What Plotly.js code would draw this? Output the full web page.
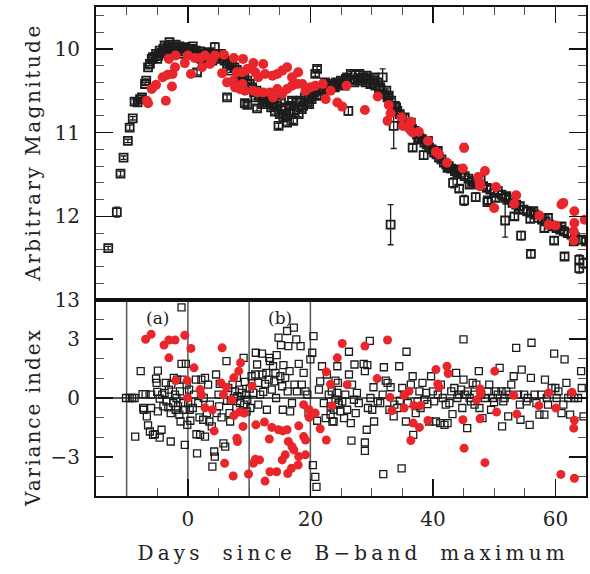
<!DOCTYPE html>
<html>
<head>
<meta charset="utf-8">
<script src="https://cdn.plot.ly/plotly-3.0.1.min.js"></script>
<style>
body{margin:0;background:#fff;}
.annotation[data-index="2"] .annotation-text{letter-spacing:2.5px;}
.annotation[data-index="3"] .annotation-text{letter-spacing:2px;}
.annotation[data-index="4"] .annotation-text{letter-spacing:4.2px;word-spacing:8px;}
</style>
</head>
<body>
<div id="chart" style="width:590px;height:574px;"></div>
<script>
// Top panel: black open squares [day, magnitude, error]
const blackTop = [
[-13.0,12.38,.02],[-11.6,11.95,.06],[-11.0,11.49,.03],[-10.5,11.30,.02],[-9.8,11.10,.02],[-9.5,10.94,.03],[-9.0,10.83,.02],[-8.7,10.63,.03],[-8.2,10.64,.02],[-7.8,10.60,.02],[-7.5,10.58,.02],[-7.0,10.42,.02],[-6.8,10.38,.02],[-6.5,10.22,.02],[-6.2,10.18,.02],[-5.9,10.12,.02],[-5.7,10.10,.02],[-5.2,10.06,.02],[-5.0,10.12,.02],[-4.8,10.08,.02],[-4.6,10.02,.02],[-4.3,10.05,.02],[-4.0,10.00,.02],[-3.8,9.96,.02],[-3.6,10.03,.02],[-3.3,9.98,.02],[-3.0,9.92,.02],[-2.7,10.00,.02],[-2.4,9.97,.02],[-2.2,10.04,.02],[-2.0,9.95,.02],[-1.7,10.02,.02],[-1.4,9.97,.02],[-1.2,10.06,.02],[-1.0,9.99,.02],[-0.7,10.03,.02],[-0.4,9.98,.02],[0.0,10.00,.02],[0.3,10.04,.02],[0.6,10.01,.02],[0.8,9.97,.02],[1.0,10.05,.02],[1.3,10.02,.02],[1.5,10.28,.03],[1.7,10.06,.02],[2.0,10.03,.02],[2.2,10.12,.02],[2.4,10.07,.02],[2.8,10.05,.02],[3.0,10.10,.02],[3.2,10.08,.02],[3.5,10.04,.02],[3.9,10.09,.02],[4.0,10.14,.02],[4.3,10.06,.02],[4.4,9.98,.05],[4.6,10.11,.02],[5.0,10.08,.02],[5.3,10.12,.02],[5.4,10.06,.02],[5.6,10.09,.03],[6.0,10.14,.02],[6.4,10.18,.02],[6.4,10.58,.03],[6.8,10.16,.02],[7.0,10.26,.02],[7.2,10.20,.02],[7.6,10.22,.02],[8.0,10.25,.02],[8.2,10.34,.02],[8.4,10.30,.02],[8.8,10.28,.02],[9.0,10.40,.02],[9.2,10.33,.02],[9.3,10.65,.03],[9.7,10.38,.02],[9.7,10.67,.03],[10.1,10.42,.02],[10.3,10.48,.02],[10.5,10.46,.02],[10.8,10.52,.02],[11.0,10.58,.02],[11.2,10.50,.02],[11.3,10.71,.03],[11.6,10.56,.02],[12.0,10.54,.03],[12.2,10.66,.03],[12.3,10.60,.03],[12.6,10.58,.03],[13.0,10.64,.03],[13.3,10.62,.03],[13.4,10.56,.03],[13.6,10.70,.03],[13.9,10.66,.03],[14.0,10.60,.03],[14.2,10.75,.03],[14.5,10.68,.03],[14.8,10.92,.03],[15.0,10.78,.03],[15.2,10.64,.03],[15.3,10.72,.03],[15.6,10.82,.03],[15.9,10.70,.03],[16.0,10.80,.03],[16.2,10.88,.03],[16.5,10.76,.03],[16.8,10.68,.03],[17.0,10.62,.03],[17.2,10.86,.03],[17.4,10.74,.03],[17.8,10.64,.03],[18.1,10.78,.03],[18.4,10.62,.03],[18.6,10.72,.03],[18.8,10.68,.03],[19.1,10.58,.03],[19.5,10.64,.03],[19.8,10.66,.03],[19.9,10.56,.03],[20.2,10.60,.03],[20.6,10.52,.03],[20.8,10.30,.03],[21.0,10.56,.03],[21.1,10.24,.03],[21.4,10.50,.03],[21.8,10.46,.03],[22.2,10.50,.03],[22.4,10.40,.03],[22.6,10.44,.03],[23.0,10.47,.03],[23.4,10.42,.03],[23.8,10.45,.03],[24.0,10.46,.03],[24.2,10.40,.03],[24.6,10.43,.03],[25.0,10.38,.03],[25.4,10.41,.03],[25.6,10.44,.03],[25.8,10.36,.03],[26.0,10.34,.03],[26.2,10.74,.05],[26.6,10.30,.03],[27.0,10.37,.03],[27.2,10.40,.03],[27.4,10.30,.03],[27.8,10.35,.03],[28.0,10.30,.03],[28.2,10.38,.03],[28.6,10.34,.03],[29.0,10.40,.03],[29.2,10.32,.03],[29.4,10.36,.03],[29.8,10.42,.03],[30.2,10.38,.03],[30.4,10.34,.03],[30.6,10.44,.03],[31.0,10.40,.03],[31.2,10.48,.03],[31.4,10.46,.03],[31.8,10.34,.10],[32.0,10.54,.03],[32.4,10.50,.03],[32.6,10.58,.03],[32.8,10.56,.03],[33.1,12.10,.24],[33.2,10.62,.03],[33.6,10.92,.27],[33.8,10.68,.03],[34.0,10.70,.03],[34.2,10.74,.03],[34.6,10.78,.03],[35.0,10.84,.03],[35.2,10.90,.03],[35.4,10.82,.03],[35.8,10.90,.03],[36.2,10.92,.03],[36.4,10.88,.03],[36.6,10.96,.03],[36.7,11.18,.04],[37.0,10.98,.03],[37.4,11.02,.03],[37.6,11.08,.03],[37.8,11.06,.03],[38.2,11.08,.03],[38.5,11.27,.05],[38.6,11.12,.03],[39.0,11.14,.03],[39.2,11.10,.03],[39.4,11.18,.03],[39.8,11.20,.03],[40.2,11.24,.03],[40.6,11.26,.03],[40.8,11.22,.03],[41.0,11.30,.03],[41.4,11.32,.03],[41.8,11.36,.03],[42.2,11.38,.03],[42.4,11.42,.03],[42.6,11.40,.03],[43.0,11.43,.03],[43.3,11.60,.06],[43.6,11.46,.03],[44.0,11.48,.03],[44.2,11.44,.03],[44.3,11.67,.04],[44.6,11.50,.03],[45.1,11.81,.06],[45.2,11.52,.03],[45.8,11.55,.03],[46.0,11.62,.03],[46.4,11.58,.03],[47.0,11.77,.05],[47.0,11.60,.03],[47.6,11.62,.03],[47.8,11.56,.03],[48.2,11.64,.03],[48.8,11.66,.03],[48.9,11.83,.05],[49.0,11.81,.04],[49.4,11.68,.04],[50.0,11.72,.04],[50.2,11.78,.04],[50.6,11.70,.04],[51.2,11.74,.04],[51.8,12.05,.20],[51.8,11.78,.04],[52.0,11.76,.04],[52.4,11.80,.04],[53.0,11.84,.04],[53.3,12.00,.04],[53.6,11.86,.04],[54.0,11.92,.04],[54.2,11.88,.04],[54.4,12.23,.05],[54.8,11.92,.04],[55.4,11.94,.04],[55.9,12.03,.04],[56.0,12.45,.04],[56.0,11.96,.04],[56.4,11.94,.04],[56.6,11.98,.04],[57.2,12.02,.04],[57.8,12.04,.04],[58.2,12.14,.04],[58.4,12.06,.04],[58.8,12.02,.04],[59.0,12.10,.04],[59.6,12.12,.04],[59.8,12.29,.04],[60.2,12.14,.04],[60.8,12.16,.04],[61.0,12.12,.04],[61.4,12.18,.04],[61.5,12.48,.04],[62.0,12.20,.04],[62.6,12.22,.04],[63.0,12.30,.04],[63.2,12.25,.04],[63.9,12.52,.06],[63.9,12.62,.06],[64.2,12.28,.04],[64.6,12.56,.06],[65.0,12.30,.04]
];
// Top panel: red filled circles [day, magnitude, error]
const redTop = [
[-6.7,10.62,.03],[-6.5,10.65,.03],[-5.9,10.48,.03],[-5.2,10.43,.03],[-3.6,10.62,.03],[-2.6,10.45,.03],[-4.1,10.34,.03],[-3.3,10.31,.03],[-2.5,10.30,.03],[-2.1,10.22,.03],[-3.1,10.12,.03],[-2.0,10.08,.03],[-0.5,10.17,.03],[0.0,10.08,.03],[0.5,10.30,.03],[1.1,10.11,.03],[2.0,10.11,.03],[2.8,10.08,.03],[3.6,10.18,.03],[4.0,10.13,.03],[4.4,10.08,.03],[2.3,10.22,.03],[5.9,10.07,.03],[7.5,10.11,.03],[5.6,10.29,.03],[6.4,10.40,.03],[7.4,10.38,.03],[8.0,10.28,.03],[8.9,10.28,.03],[9.8,10.24,.03],[7.7,10.46,.03],[8.5,10.48,.03],[9.0,10.12,.03],[10.7,10.17,.03],[12.3,10.18,.03],[9.7,10.24,.03],[11.0,10.28,.03],[11.5,10.34,.03],[12.6,10.30,.03],[13.8,10.32,.03],[14.6,10.30,.03],[15.4,10.26,.03],[16.2,10.22,.04],[17.0,10.34,.03],[18.0,10.28,.04],[8.9,10.42,.03],[9.3,10.50,.03],[10.7,10.50,.03],[11.3,10.52,.03],[12.3,10.52,.03],[13.4,10.52,.03],[13.9,10.58,.03],[14.6,10.48,.03],[15.4,10.54,.03],[16.2,10.48,.03],[17.0,10.44,.03],[17.9,10.42,.03],[18.7,10.42,.03],[19.2,10.50,.03],[20.0,10.46,.03],[20.8,10.44,.03],[22.0,10.42,.03],[22.5,10.60,.03],[23.3,10.50,.03],[24.4,10.64,.03],[25.2,10.69,.04],[25.9,10.44,.03],[28.9,10.73,.04],[31.0,10.57,.03],[32.6,10.86,.03],[32.8,10.67,.03],[33.1,10.77,.03],[34.9,10.82,.03],[35.1,10.92,.03],[36.4,10.87,.03],[36.1,10.95,.03],[36.7,11.00,.03],[37.7,10.99,.03],[39.2,11.10,.03],[40.5,11.23,.03],[41.0,11.26,.03],[42.3,11.36,.03],[45.1,11.18,.05],[44.9,11.43,.03],[47.4,11.53,.03],[47.7,11.61,.03],[48.5,11.46,.03],[47.7,11.64,.03],[50.3,11.65,.03],[50.0,11.90,.04],[53.3,11.85,.03],[53.6,11.75,.03],[57.4,11.99,.03],[58.9,12.10,.03],[60.0,12.11,.03],[61.0,11.86,.03],[61.3,11.84,.03],[63.1,11.94,.03],[63.1,12.08,.03],[63.0,12.18,.03],[63.0,12.29,.04],[64.8,12.04,.03]
];
// Bottom panel: black open squares [day, variance index]
const blackVar = [
[-10.1,0],[-9.5,0],[-9.1,0],[-8.7,0],[-7.7,1.37],[-8.6,-1.97],[-7.4,0.2],[-7.3,-0.51],[-7.2,-0.6],[-6.9,0.2],[-6.7,-0.94],[-6.5,-1.4],[-6.2,-1.71],[-6.0,0.17],[-6.0,-0.51],[-5.7,-1.88],[-5.4,-1.85],[-5.2,0.99],[-5.1,0.77],[-5.0,0.31],[-4.9,1.4],[-4.9,-0.68],[-4.6,-0.03],[-4.6,-2.02],[-4.3,-1.62],[-4.2,0.17],[-4.0,-0.43],[-3.8,0.26],[-3.6,0.77],[-3.5,-0.17],[-3.2,-0.48],[-3.1,0.43],[-2.8,-2.22],[-2.8,-0.77],[-2.7,0.68],[-2.4,-0.26],[-2.3,1.03],[-2.1,0.17],[-1.97,-0.6],[-1.86,0],[-1.75,0.94],[-1.6,-0.43],[-1.4,-0.85],[-1.3,0.34],[-1.2,-1.2],[-1.04,1.74],[-1.04,4.62],[-0.9,0.94],[-0.77,-0.26],[-0.6,-0.6],[-0.5,-2.39],[-0.33,1.74],[-0.2,0.68],[-0.1,-1.37],[0.05,-0.26],[0.2,0.43],[0.3,-0.6],[0.4,-1.16],[0.8,-0.51],[1.0,0.17],[1.3,0.94],[1.4,-1.85],[1.5,-2.82],[1.7,-0.26],[1.9,-0.99],[2.0,-1.88],[2.2,0.94],[2.5,-1.11],[2.6,0],[2.8,1.03],[2.8,-1.97],[3.1,-0.77],[3.3,0.68],[3.5,-1.2],[3.6,-0.34],[3.9,-1.45],[4.0,-3.5],[4.3,-2.73],[4.4,-2.99],[4.6,1.2],[4.7,-0.77],[5.0,0.17],[5.1,-0.43],[5.2,0.72],[5.5,-0.99],[5.8,-2.31],[6.1,-2.48],[6.3,1.88],[6.4,-0.14],[6.6,0.51],[6.8,-0.77],[6.9,-1.2],[7.0,-0.14],[7.3,0.68],[7.5,0],[7.7,0.34],[7.9,-0.51],[8.0,1.03],[8.1,0.09],[8.4,0.43],[8.5,-0.26],[8.8,0.26],[9.1,2.05],[9.2,-0.34],[9.3,0.82],[9.5,0.17],[9.6,-0.68],[9.7,-0.09],[10.1,0.48],[10.2,-0.51],[10.4,1.11],[10.7,0.26],[11.0,1.2],[11.1,2.31],[11.3,1.71],[11.5,0.77],[11.5,-0.34],[11.8,0.17],[12.1,2.26],[12.2,1.2],[12.3,0.31],[12.6,0.72],[12.8,1.28],[12.9,-0.6],[13.2,0.94],[13.3,2.05],[13.4,1.88],[13.7,0.43],[13.9,1.62],[14.1,0.85],[14.3,1.28],[14.4,0],[14.5,2.19],[14.8,3.08],[15.1,1.11],[15.2,2.7],[15.4,0.6],[15.5,-0.6],[15.6,1.68],[15.9,1.03],[16.2,3.42],[16.3,0.34],[16.4,2.65],[16.6,1.37],[16.7,-0.68],[17.0,-0.26],[17.3,3.59],[17.4,0.68],[17.7,2.99],[17.8,0.34],[18.1,1.74],[18.4,2.65],[18.6,0.68],[18.9,1.28],[19.2,0.34],[19.5,0.17],[19.7,-0.77],[20.0,1.97],[20.3,2.31],[20.4,-3.42],[20.5,3.16],[20.8,-4.02],[21.0,-4.53],[21.1,-1.16],[21.4,0.43],[21.6,0.85],[21.9,1.62],[22.2,-0.26],[22.5,-1.03],[22.7,1.2],[23.0,0.17],[23.3,-0.43],[23.6,-1.2],[23.8,-0.6],[24.1,0.89],[24.4,0.26],[24.6,-0.26],
[23.3,-0.85],[23.5,0.34],[23.8,-1.2],[24.1,-0.09],[24.4,1.62],[24.5,0.77],[24.6,-0.34],[24.9,-0.68],[25.2,-0.17],[25.5,-1.03],[25.7,0.17],[26.0,-0.6],[26.3,2.36],[26.3,1.2],[26.6,-1.28],[26.7,-2.17],[26.8,0.68],[27.1,-0.09],[27.2,1.71],[27.4,-0.77],[27.6,0.26],[27.9,-0.26],[28.7,1.74],[28.9,1.37],[28.9,-2.27],[28.9,-2.7],[29.2,-1.62],[29.3,1.68],[29.4,-0.51],[29.7,2.91],[29.8,0],[30.1,-0.6],[30.3,0.55],[30.4,-1.2],[31.0,-0.17],[31.4,-0.26],[31.8,0.17],[31.9,-3.88],[32.0,1.57],[32.3,0.89],[32.6,0.77],[32.9,-0.6],[33.1,0.55],[33.6,-0.94],[33.7,-0.34],[34.2,-0.51],[34.5,1.62],[34.6,-0.14],[34.9,-3.59],[35.0,0.51],[35.3,0.17],[35.7,2.36],[35.6,-1.2],[35.9,-0.26],[36.4,0.68],[36.7,1.11],[36.8,-1.88],[37.2,-0.77],[37.5,-0.17],[37.8,0.34],[38.0,-0.51],[38.3,0.77],[38.6,-0.09],[38.9,0.26],[39.1,-0.31],[39.4,-1.2],[39.7,1.11],[40.0,0.34],[40.2,-0.17],[40.5,-1.2],[40.8,0.17],[41.2,-1.28],[41.3,0.68],[41.6,0],[41.9,-1.37],[42.1,-0.34],[42.4,-1.28],[42.7,-0.26],[43.0,0.34],[43.2,-0.82],[43.5,0.51],[43.8,1.28],[44.0,0],[44.3,0.17],[44.6,0.43],[44.8,-0.51],[45.0,2.99],[45.0,0.94],[45.2,0.17],[45.6,-1.54],[45.7,0.34],[46.0,0],[46.2,-0.17],[46.5,0.77],[46.7,0.17],[46.8,-0.34],[47.1,0.68],[47.5,1.37],[47.6,-0.51],[47.9,0.17],[48.1,-1.03],[48.5,0],[48.9,0.34],[49.2,0.68],[49.5,-0.6],[49.8,0],[50.0,-0.21],[50.3,0.34],[50.6,0.17],[50.9,1.54],[51.2,0.34],[51.3,-1.45],[51.5,-0.17],[51.7,0],[52.0,0.34],[52.3,-0.94],[52.5,0.17],[52.8,0.68],[53.2,1.11],[53.6,2.56],[53.9,0.17],[54.2,-0.34],[54.3,-1.11],[54.5,1.45],[54.9,0.17],[55.3,-0.17],[55.5,0],[55.8,-1.37],[56.0,1.03],[56.1,2.82],[56.6,0.17],[56.9,-0.26],[57.4,-0.85],[57.7,0.17],[58.2,-0.85],[58.3,0.94],[58.6,0],[58.8,-0.34],[59.4,0.51],[59.8,2.26],[60.0,0.51],[60.2,0],[60.5,0.34],[61.0,-0.77],[61.3,-0.34],[61.5,1.97],[61.8,0.77],[62.1,0],[62.4,-0.85],[62.6,0.17],[63.1,0],[63.7,0],[64.2,1.37],[64.3,0.51],[64.6,-0.94]
];
// Bottom panel: red filled circles [day, variance index]
const redVar = [
[-6.9,3.0],[-6.0,3.25],[-3.9,2.7],[-3.1,2.96],[-2.1,2.96],[-0.5,3.2],[-3.1,2.05],[0.5,2.53],[1.0,1.54],[5.6,2.56],[-2.0,0.89],[-0.1,0.89],[-0.05,0.0],[2.0,0.43],[2.2,0.17],[2.8,-0.5],[4.0,-0.6],[4.3,-1.68],[5.4,0.77],[5.8,0.17],[6.3,0.55],[7.2,-0.09],[7.5,1.03],[8.3,1.37],[8.6,1.8],[7.5,-0.89],[8.4,-0.72],[9.2,-0.77],[9.0,-1.45],[8.0,-2.05],[8.1,-2.22],[6.0,-3.33],[7.4,-3.98],[9.9,-3.88],[10.5,0.6],[11.1,-1.37],[12.5,-1.23],[10.7,-3.33],[11.0,-3.13],[11.7,-3.16],[12.6,-4.24],[13.4,-3.76],[13.7,-1.5],[13.3,-2.09],[14.5,-3.76],[14.8,-1.62],[15.5,-1.68],[16.2,-1.62],[16.4,-2.22],[15.4,-3.16],[15.9,-2.9],[16.3,-3.85],[16.9,-3.59],[17.0,-2.48],[17.3,-2.65],[18.1,-1.42],[18.1,-2.99],[18.0,-3.42],[18.9,-1.97],[19.2,-2.14],[19.2,-2.9],[18.9,-0.34],[19.8,-0.6],[19.8,-0.99],[20.8,-0.77],[21.6,-1.57],[22.6,-2.14],[22.6,1.33],[23.3,0.7],[24.4,2.05],[25.2,2.78],[23.5,-0.39],[26.0,0.68],[28.9,2.65],[32.6,2.96],[30.9,0.99],[33.0,0.03],[33.3,-0.65],[35.3,0.14],[35.3,-0.51],[36.1,0.34],[36.9,-0.38],[38.0,-0.38],[36.8,-1.28],[37.8,-1.5],[36.4,-2.17],[39.2,-1.15],[40.5,1.45],[40.8,0.72],[41.0,0.55],[42.3,1.62],[42.5,1.25],[44.9,-1.11],[45.1,-2.56],[47.2,-0.09],[47.7,0.46],[47.8,0.22],[47.7,-1.06],[48.5,-3.3],[50.1,1.37],[50.4,-0.72],[53.2,0.14],[53.7,-0.82],[57.3,-0.39],[58.9,0.26],[60.1,-0.51],[60.9,-3.9],[62.7,0.29],[63.1,-1.13],[63.0,-1.54],[63.1,-4.1]
];
const windowEdges = [-10, 0, 10, 20];
const windowLabels = [{day: -5, text: '(a)'}, {day: 15, text: '(b)'}];
const xTickVals = [0, 20, 40, 60];

const BLACK = '#1c1c1c';
const RED = '#e8262b';
const FONT = {family: 'DejaVu Serif, serif', size: 20, color: '#222'};
const col = (arr, i) => arr.map(r => r[i]);

const traces = [
  {type:'scatter', mode:'markers', xaxis:'x2', yaxis:'y',
   x: col(blackTop,0), y: col(blackTop,1),
   error_y:{type:'data', array: col(blackTop,2), color: BLACK, thickness:1.3, width:3},
   marker:{symbol:'square-open', size:8, color:BLACK, line:{width:1.8, color:BLACK}}},
  {type:'scatter', mode:'markers', xaxis:'x2', yaxis:'y',
   x: col(redTop,0), y: col(redTop,1),
   error_y:{type:'data', array: col(redTop,2), color: RED, thickness:1.3, width:3},
   marker:{symbol:'circle', size:10, color:RED}},
  {type:'scatter', mode:'markers', xaxis:'x', yaxis:'y2',
   x: col(blackVar,0), y: col(blackVar,1),
   marker:{symbol:'square-open', size:7, color:BLACK, line:{width:1.3, color:BLACK}}},
  {type:'scatter', mode:'markers', xaxis:'x', yaxis:'y2',
   x: col(redVar,0), y: col(redVar,1),
   marker:{symbol:'circle', size:9, color:RED}}
];

const split = 0.4008;
const shapes = windowEdges.map(d => ({type:'line', xref:'x', yref:'y2', x0:d, x1:d, y0:-5, y1:5,
  line:{color:'#555', width:1.5}, layer:'below'}));
shapes.push({type:'line', xref:'paper', yref:'y2', x0:0, x1:1, y0:0, y1:0, line:{color:'#222', width:1.5}, layer:'below'});

const annotations = windowLabels.map(l => ({xref:'x', yref:'y2', x:l.day, y:4.1, text:l.text, showarrow:false,
  xanchor:'center', yanchor:'middle', font:{family:'DejaVu Serif, serif', size:17, color:'#222'}}));
annotations.push({xref:'paper', yref:'paper', x:-0.1286, y:0.7035, xanchor:'center', yanchor:'middle',
  text:'Arbitrary Magnitude', textangle:-90, showarrow:false, font:FONT});
annotations.push({xref:'paper', yref:'paper', x:-0.1286, y:0.1616, xanchor:'center', yanchor:'middle',
  text:'Variance index', textangle:-90, showarrow:false, font:FONT});
annotations.push({xref:'paper', yref:'paper', x:0.5245, y:-0.1166, xanchor:'center', yanchor:'middle',
  text:'Days since B\u2212band maximum', showarrow:false, font:FONT});

const axCommon = {showgrid:false, zeroline:false, ticks:'inside', showline:true, linecolor:'#111', linewidth:2, tickcolor:'#111', tickwidth:1.5, tickfont:FONT};

const layout = {
  width:590, height:574, margin:{l:96, r:4, t:7, b:78},
  paper_bgcolor:'#fff', plot_bgcolor:'#fff', showlegend:false,
  xaxis: Object.assign({}, axCommon, {domain:[0,1], anchor:'y2', range:[-15,65], tickvals:xTickVals, ticklen:17, mirror:true,
    minor:{dtick:5, tick0:0, ticklen:8, tickcolor:'#555', tickwidth:1, ticks:'inside'}, ticklabelstandoff:4}),
  xaxis2: Object.assign({}, axCommon, {domain:[0,1], anchor:'y', side:'top', range:[-15,65], tickvals:xTickVals, ticklen:16, mirror:true, showticklabels:false,
    minor:{dtick:5, tick0:0, ticklen:8, tickcolor:'#555', tickwidth:1, ticks:'inside'}}),
  yaxis: Object.assign({}, axCommon, {domain:[split,1], anchor:'x2', range:[13,9.5], dtick:1, tick0:0, ticklen:17, mirror:'ticks',
    minor:{dtick:0.2, tick0:0, ticklen:8, tickcolor:'#555', tickwidth:1, ticks:'inside'}, ticklabelstandoff:10}),
  yaxis2: Object.assign({}, axCommon, {domain:[0,split], anchor:'x', range:[-5,5], dtick:3, tick0:0, ticklen:17, mirror:'ticks',
    minor:{dtick:1, tick0:0, ticklen:8, tickcolor:'#555', tickwidth:1, ticks:'inside'}, ticklabelstandoff:10}),
  shapes: shapes,
  annotations: annotations
};

Plotly.newPlot('chart', traces, layout, {displayModeBar:false, staticPlot:true});
</script>
</body>
</html>
